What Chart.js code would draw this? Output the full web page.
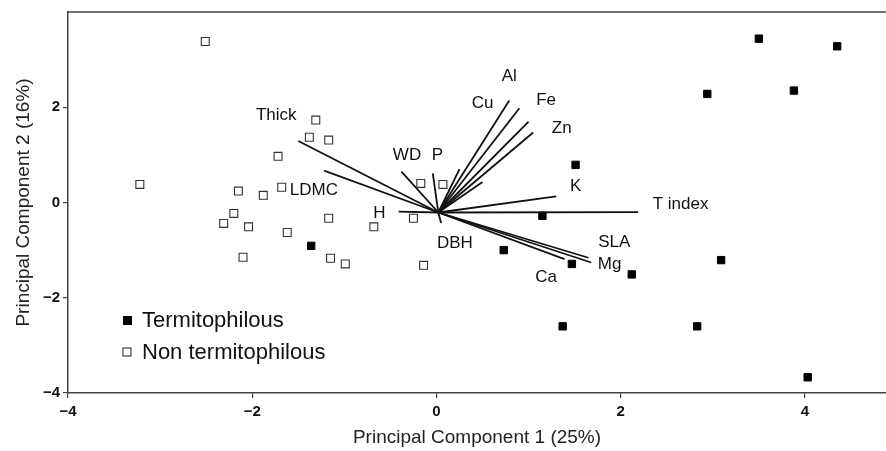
<!DOCTYPE html>
<html>
<head>
<meta charset="utf-8">
<script src="https://cdn.jsdelivr.net/npm/chart.js@4"></script>
<style>
  body { margin: 0; background: #fff; }
  #wrap { width: 886px; height: 451px; }
</style>
</head>
<body>
<div id="wrap"><canvas id="myChart" width="886" height="451"></canvas></div>
<script>
// sample scores (PC1, PC2)
let termX = [-1.36, 3.50, 4.35, 2.94, 3.88, 1.51, 1.15, 0.73, 1.47, 2.12, 3.09, 1.37, 2.83, 4.03];
let termY = [-0.91, 3.44, 3.28, 2.28, 2.35, 0.79, -0.28, -1.00, -1.29, -1.51, -1.21, -2.60, -2.60, -3.67];
let nonTermX = [-2.51, -3.22, -1.31, -1.38, -1.17, -1.72, -2.15, -1.88, -1.68, -2.20, -2.31,
                -2.04, -1.62, -1.17, -2.10, -1.15, -0.99, -0.68, -0.25, -0.17, 0.07, -0.14];
let nonTermY = [3.38, 0.38, 1.73, 1.37, 1.31, 0.97, 0.24, 0.15, 0.32, -0.23, -0.44,
                -0.51, -0.63, -0.33, -1.15, -1.17, -1.29, -0.51, -0.33, 0.40, 0.38, -1.32];

// trait vectors (loadings), drawn from a common origin
let vecOrigin = [0.02, -0.21];
let vecNames = ['Thick', 'LDMC', 'WD', 'P', 'H', 'DBH', 'Al', 'Cu', 'Fe', 'Zn', '', '', 'K', 'T index', 'SLA', 'Mg', 'Ca'];
let vecX = [-1.50, -1.22, -0.38, -0.04, -0.41, 0.05, 0.79, 0.90, 1.00, 1.05, 0.25, 0.50, 1.30, 2.19, 1.65, 1.68, 1.39];
let vecY = [1.29, 0.67, 0.65, 0.61, -0.19, -0.43, 2.14, 1.98, 1.70, 1.47, 0.70, 0.43, 0.13, -0.20, -1.16, -1.26, -1.19];

// where each vector name sits (centre of text, in PC units)
let labelNames = ['Thick', 'LDMC', 'WD', 'P', 'H', 'DBH', 'Al', 'Cu', 'Fe', 'Zn', 'K', 'T index', 'SLA', 'Mg', 'Ca'];
let labelX = [-1.74, -1.33, -0.32, 0.01, -0.62, 0.20, 0.79, 0.50, 1.19, 1.36, 1.51, 2.65, 1.93, 1.88, 1.19];
let labelY = [1.83, 0.26, 1.00, 1.00, -0.22, -0.85, 2.65, 2.09, 2.14, 1.55, 0.33, -0.04, -0.84, -1.30, -1.58];

let legendNames = ['Termitophilous', 'Non termitophilous'];

const FONT = "'Liberation Sans', Arial, sans-serif";
const TICKFONT = "'Liberation Sans Narrow', 'Liberation Sans', Arial, sans-serif";

let datasets = [];
for (let i = 0; i < vecX.length; i++) {
    datasets.push({
        label: vecNames[i] || 'vec' + i,
        data: [{x: vecOrigin[0], y: vecOrigin[1]}, {x: vecX[i], y: vecY[i]}],
        showLine: true,
        borderColor: '#111',
        borderWidth: 1.8,
        pointRadius: 0,
        fill: false
    });
}
datasets.push({
    label: legendNames[1],
    data: nonTermX.map((v, i) => ({x: v, y: nonTermY[i]})),
    pointStyle: 'rect',
    pointRadius: 5.6,
    backgroundColor: '#fff',
    borderColor: '#333',
    borderWidth: 1.1
});
datasets.push({
    label: legendNames[0],
    data: termX.map((v, i) => ({x: v, y: termY[i]})),
    pointStyle: 'rect',
    pointRadius: 5.2,
    backgroundColor: '#000',
    borderColor: '#000',
    borderWidth: 1
});

// text labels for vectors, frame top line and the in-plot legend
const extras = {
    id: 'extras',
    afterDatasetsDraw(chart) {
        let ctx = chart.ctx;
        let xs = chart.scales.x;
        let ys = chart.scales.y;
        let area = chart.chartArea;
        ctx.save();
        ctx.fillStyle = '#111';
        ctx.font = '17px ' + FONT;
        ctx.textAlign = 'center';
        ctx.textBaseline = 'middle';
        for (let i = 0; i < labelNames.length; i++) {
            ctx.fillText(labelNames[i], xs.getPixelForValue(labelX[i]), ys.getPixelForValue(labelY[i]));
        }
        // top frame line
        ctx.strokeStyle = '#444';
        ctx.lineWidth = 1.5;
        ctx.beginPath();
        ctx.moveTo(area.left, area.top);
        ctx.lineTo(area.right, area.top);
        ctx.stroke();
        // legend
        ctx.font = '22px ' + FONT;
        ctx.textAlign = 'left';
        let lx = area.left + 59;
        let rows = [area.bottom - 73, area.bottom - 41];
        for (let k = 0; k < 2; k++) {
            let y = rows[k];
            if (k === 0) {
                ctx.fillStyle = '#000';
                ctx.fillRect(lx - 4, y - 4, 9, 9);
            } else {
                ctx.fillStyle = '#fff';
                ctx.fillRect(lx - 4, y - 4, 8, 8);
                ctx.strokeStyle = '#333';
                ctx.lineWidth = 1.1;
                ctx.strokeRect(lx - 4, y - 4, 8, 8);
            }
            ctx.fillStyle = '#111';
            ctx.fillText(legendNames[k], lx + 15, y + 1);
        }
        ctx.restore();
    }
};

function minus(v) {
    return String(v).replace('-', '\u2212');
}

let config = {
    type: 'scatter',
    data: { datasets: datasets },
    options: {
        responsive: false,
        animation: false,
        layout: { autoPadding: false, padding: { top: 10, right: 0, left: 0, bottom: 0 } },
        plugins: {
            legend: { display: false },
            tooltip: { enabled: false }
        },
        scales: {
            x: {
                type: 'linear',
                min: -4,
                max: 4.88,
                afterFit: s => { s.height = 58; },
                border: { display: true, color: '#444', width: 1.5 },
                grid: { drawOnChartArea: false, drawTicks: true, tickLength: 5, color: '#444', lineWidth: 1.2 },
                ticks: {
                    stepSize: 2,
                    includeBounds: false,
                    padding: 5,
                    color: '#111',
                    font: { family: TICKFONT, size: 15, weight: 'bold' },
                    callback: v => minus(v)
                },
                title: {
                    display: true,
                    text: 'Principal Component 1 (25%)',
                    color: '#222',
                    font: { family: FONT, size: 19 },
                    padding: { top: 4, bottom: 2 }
                }
            },
            y: {
                type: 'linear',
                min: -4,
                max: 4,
                afterFit: s => { s.width = 68; },
                afterBuildTicks: s => { s.ticks = s.ticks.filter(t => t.value !== 4); },
                border: { display: true, color: '#444', width: 1.5 },
                grid: { drawOnChartArea: false, drawTicks: true, tickLength: 5, color: '#444', lineWidth: 1.2 },
                ticks: {
                    stepSize: 2,
                    padding: 3,
                    color: '#111',
                    font: { family: TICKFONT, size: 15, weight: 'bold' },
                    callback: v => minus(v)
                },
                title: {
                    display: true,
                    text: 'Principal Component 2 (16%)',
                    color: '#222',
                    font: { family: FONT, size: 19 },
                    padding: { top: 12, bottom: 0 }
                }
            }
        }
    },
    plugins: [extras]
};

let myChart = new Chart(document.getElementById('myChart'), config);
</script>
</body>
</html>
